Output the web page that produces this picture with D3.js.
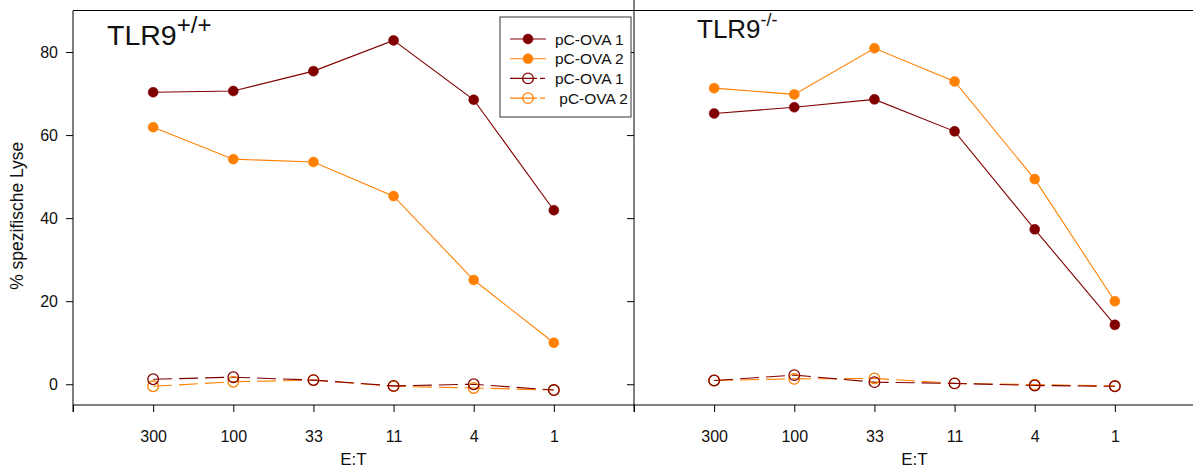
<!DOCTYPE html>
<html>
<head>
<meta charset="utf-8">
<script src="https://cdn.jsdelivr.net/npm/d3@7"></script>
<style>
  body { margin: 0; background: #fff; }
  svg text { font-family: "Liberation Sans", Arial, sans-serif; fill: #111; }
</style>
</head>
<body>
<svg id="chart" width="1193" height="470"></svg>
<script>
// E:T ratios on the x axis (positions 1..6)
const ratios = ['300', '100', '33', '11', '4', '1'];
const yTicks = [0, 20, 40, 60, 80];

// TLR9 +/+ panel
const wt_ova1 = [70.3, 70.6, 75.4, 82.8, 68.5, 41.9];
const wt_ova2 = [61.9, 54.2, 53.5, 45.3, 25.1, 10.0];
const wt_ova1_ctrl = [1.2, 1.7, 1.0, -0.4, 0.0, -1.4];
const wt_ova2_ctrl = [-0.5, 0.6, 1.0, -0.5, -0.9, -1.4];

// TLR9 -/- panel
const ko_ova1 = [65.2, 66.7, 68.6, 60.9, 37.3, 14.3];
const ko_ova2 = [71.3, 69.8, 80.9, 72.9, 49.4, 20.0];
const ko_ova1_ctrl = [0.9, 2.2, 0.5, 0.2, -0.3, -0.5];
const ko_ova2_ctrl = [0.9, 1.3, 1.4, 0.2, -0.1, -0.4];

const legendLabels = ['pC-OVA 1', 'pC-OVA 2', 'pC-OVA 1', ' pC-OVA 2'];

const dark = '#800000';
const orange = '#ff8000';

const svg = d3.select('#chart');
const plotTop = 10.5, plotBottom = 405;

const y = d3.scaleLinear().domain([-5, 90]).range([plotBottom, plotTop]);
const xL = d3.scaleLinear().domain([0, 7]).range([73, 634]);
const xR = d3.scaleLinear().domain([0, 7]).range([634, 1195]);

const series = (a, b, c, d) => [
  { vals: a, color: dark, open: false },
  { vals: b, color: orange, open: false },
  { vals: c, color: dark, open: true },
  { vals: d, color: orange, open: true }
];

function drawPanel(x, data, showLabels) {
  const g = svg.append('g');

  // top frame
  g.append('line')
    .attr('x1', x.range()[0]).attr('x2', x.range()[1])
    .attr('y1', plotTop).attr('y2', plotTop)
    .attr('stroke', '#000');

  const yAxis = d3.axisLeft(y).tickValues(yTicks).tickSize(7).tickPadding(8)
    .tickFormat(showLabels ? d3.format('d') : '');
  const ya = g.append('g')
    .attr('transform', `translate(${x.range()[0]},0)`)
    .call(yAxis);
  ya.select('.domain').remove();
  ya.append('line')
    .attr('y1', showLabels ? plotTop : 0).attr('y2', plotBottom + 7)
    .attr('stroke', '#000');

  const xAxis = d3.axisBottom(x).tickValues(d3.range(0, 8)).tickSize(7).tickPadding(19)
    .tickFormat(i => (i >= 1 && i <= 6) ? ratios[i - 1] : '');
  const xa = g.append('g')
    .attr('transform', `translate(0,${plotBottom})`)
    .call(xAxis);
  xa.select('.domain').attr('d', `M${x.range()[0]},0H${x.range()[1]}`);

  svg.selectAll('.tick text').attr('font-size', 16);
  svg.selectAll('.tick line, .domain').attr('stroke', '#000');

  g.append('text')
    .attr('x', (x.range()[0] + x.range()[1]) / 2)
    .attr('y', 465)
    .attr('text-anchor', 'middle')
    .attr('font-size', 17)
    .text('E:T');

  const line = d3.line().x((d, i) => x(i + 1)).y(d => y(d));

  data.slice().reverse().forEach(s => {
    g.append('path')
      .attr('d', line(s.vals))
      .attr('fill', 'none')
      .attr('stroke', s.color)
      .attr('stroke-width', 1.1)
      .attr('stroke-dasharray', s.open ? '19,7' : null);
  });
  data.slice().reverse().forEach(s => {
    g.selectAll(null).data(s.vals).join('circle')
      .attr('cx', (d, i) => x(i + 1))
      .attr('cy', d => y(d))
      .attr('r', s.open ? 5.3 : 5)
      .attr('fill', s.open ? 'none' : s.color)
      .attr('stroke', s.color)
      .attr('stroke-width', s.open ? 1.3 : 0.5);
  });
  return g;
}

drawPanel(xL, series(wt_ova1, wt_ova2, wt_ova1_ctrl, wt_ova2_ctrl), true);
drawPanel(xR, series(ko_ova1, ko_ova2, ko_ova1_ctrl, ko_ova2_ctrl), false);

// y axis title
svg.append('text')
  .attr('transform', `translate(23,${(plotTop + plotBottom) / 2 + 8}) rotate(-90)`)
  .attr('text-anchor', 'middle')
  .attr('font-size', 17.5)
  .text('% spezifische Lyse');

// panel titles
const t1 = svg.append('text').attr('x', 107).attr('y', 45).attr('font-size', 28.5);
t1.append('tspan').text('TLR9');
t1.append('tspan').attr('font-size', 24).attr('dy', -12).text('+/+');

const t2 = svg.append('text').attr('x', 697).attr('y', 38).attr('font-size', 26);
t2.append('tspan').text('TLR9');
t2.append('tspan').attr('font-size', 18).attr('dy', -12).text('-/-');

// legend
const leg = svg.append('g');
leg.append('rect')
  .attr('x', 500).attr('y', 17).attr('width', 131).attr('height', 100)
  .attr('fill', '#fff').attr('stroke', '#333').attr('stroke-width', 1);

const legData = series(null, null, null, null);
legData.forEach((s, i) => {
  const ly = 39 + i * 19.7;
  leg.append('line')
    .attr('x1', 510).attr('x2', 546).attr('y1', ly).attr('y2', ly)
    .attr('stroke', s.color).attr('stroke-width', 1.1)
    .attr('stroke-dasharray', s.open ? '27,3,5,20' : null);
  leg.append('circle')
    .attr('cx', 528).attr('cy', ly)
    .attr('r', s.open ? 5.3 : 5)
    .attr('fill', s.open ? 'none' : s.color)
    .attr('stroke', s.color)
    .attr('stroke-width', s.open ? 1.3 : 0.5);
  leg.append('text')
    .attr('x', 555).attr('y', ly + 5.5)
    .attr('font-size', 15.5)
    .style('white-space', 'pre')
    .text(legendLabels[i]);
});
</script>
</body>
</html>
